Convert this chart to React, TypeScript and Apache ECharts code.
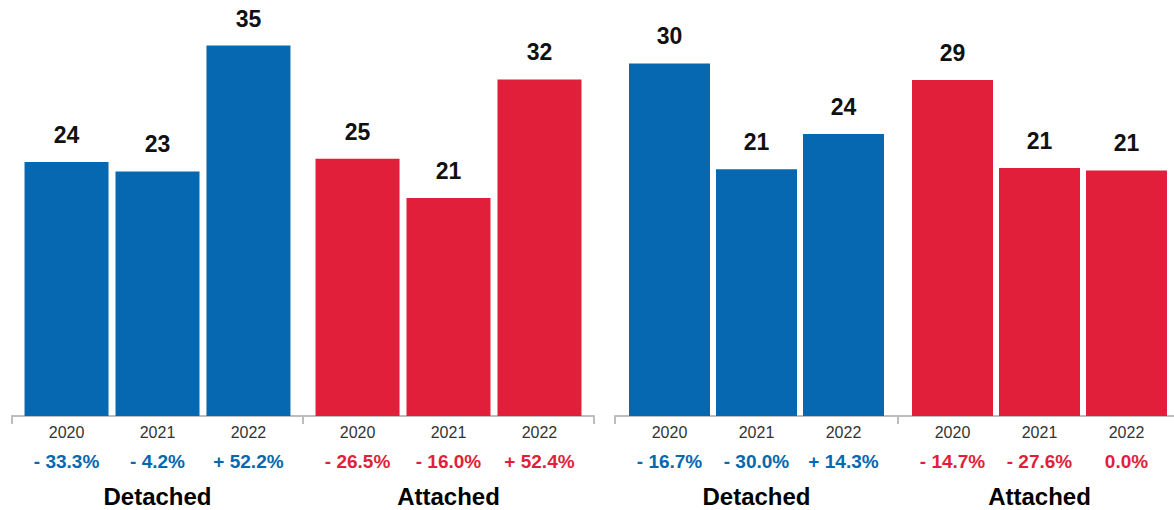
import React, { useEffect, useRef } from "react";
import * as echarts from "echarts";

const years = ["2020", "2021", "2022"];
const groups = ["Detached", "Attached"];

const leftDetached = [24.0, 23.1, 35.0];
const leftAttached = [24.3, 20.6, 31.8];
const leftDetachedLabels = ["24", "23", "35"];
const leftAttachedLabels = ["25", "21", "32"];
const leftDetachedChange = ["- 33.3%", "- 4.2%", "+ 52.2%"];
const leftAttachedChange = ["- 26.5%", "- 16.0%", "+ 52.4%"];

const rightDetached = [30.0, 21.0, 24.0];
const rightAttached = [28.6, 21.1, 20.9];
const rightDetachedLabels = ["30", "21", "24"];
const rightAttachedLabels = ["29", "21", "21"];
const rightDetachedChange = ["- 16.7%", "- 30.0%", "+ 14.3%"];
const rightAttachedChange = ["- 14.7%", "- 27.6%", "0.0%"];

const BLUE = "#0568B0";
const RED = "#E21F3A";
const FONT = "'Liberation Sans', Arial, Helvetica, sans-serif";

function buildSeries(
  detached: number[],
  attached: number[],
  detLabels: string[],
  attLabels: string[],
  detChange: string[],
  attChange: string[],
  mainX: number,
  ghostX: number,
  yIdx: number,
  barWidth: number,
  barGap: string
) {
  const out: any[] = [];
  years.forEach((yr, i) => {
    out.push({
      type: "bar",
      name: yr,
      xAxisIndex: mainX,
      yAxisIndex: yIdx,
      barWidth,
      barGap,
      data: [detached[i], attached[i]],
      itemStyle: {
        color: (p: any) => (p.dataIndex === 0 ? BLUE : RED),
      },
      label: {
        show: true,
        position: "top",
        distance: 15,
        fontFamily: FONT,
        fontSize: 23,
        lineHeight: 24,
        fontWeight: "bold",
        color: "#111",
        formatter: (p: any) => (p.dataIndex === 0 ? detLabels[i] : attLabels[i]),
      },
    });
  });
  years.forEach((yr, i) => {
    out.push({
      type: "bar",
      name: yr + "-lbl",
      xAxisIndex: ghostX,
      yAxisIndex: yIdx,
      barWidth,
      barGap,
      silent: true,
      data: [detached[i], attached[i]],
      itemStyle: { color: "rgba(0,0,0,0)" },
      label: {
        show: true,
        position: "bottom",
        distance: 6,
        fontFamily: FONT,
        formatter: (p: any) =>
          p.dataIndex === 0
            ? `{y|${yr}}\n{b|${detChange[i]}}`
            : `{y|${yr}}\n{r|${attChange[i]}}`,
        rich: {
          y: { fontFamily: FONT, fontSize: 16, lineHeight: 20, color: "#333" },
          b: { fontFamily: FONT, fontSize: 19, lineHeight: 38, fontWeight: "bold", color: BLUE },
          r: { fontFamily: FONT, fontSize: 19, lineHeight: 38, fontWeight: "bold", color: RED },
        },
      },
    });
  });
  return out;
}

function mainAxis(gridIndex: number) {
  return {
    type: "category",
    gridIndex,
    data: groups,
    offset: 3,
    axisLine: { show: true, lineStyle: { color: "#bdbdbd", width: 2 } },
    axisTick: { show: true, length: 8, lineStyle: { color: "#bdbdbd", width: 2 } },
    axisLabel: {
      margin: 65,
      fontFamily: FONT,
      fontSize: 24,
      lineHeight: 24,
      fontWeight: "bold",
      color: "#000",
    },
  };
}

function ghostAxis(gridIndex: number) {
  return { type: "category", gridIndex, data: groups, show: false };
}

export default function App() {
  const ref = useRef<HTMLDivElement>(null);
  useEffect(() => {
    if (!ref.current) return;
    const chart = echarts.init(ref.current, null, { renderer: "svg" });
    chart.setOption({
      animation: false,
      textStyle: { fontFamily: FONT },
      grid: [
        { left: 12, width: 582, top: 0, bottom: 94 },
        { left: 615, width: 566, top: 0, bottom: 94 },
      ],
      xAxis: [mainAxis(0), ghostAxis(0), mainAxis(1), ghostAxis(1)],
      yAxis: [
        { type: "value", gridIndex: 0, min: 0, max: 39.3, show: false, splitLine: { show: false } },
        { type: "value", gridIndex: 1, min: 0, max: 35.4, show: false, splitLine: { show: false } },
      ],
      series: [
        ...buildSeries(leftDetached, leftAttached, leftDetachedLabels, leftAttachedLabels, leftDetachedChange, leftAttachedChange, 0, 1, 0, 84, "8.3%"),
        ...buildSeries(rightDetached, rightAttached, rightDetachedLabels, rightAttachedLabels, rightDetachedChange, rightAttachedChange, 2, 3, 1, 81, "7.4%"),
      ],
    });
    return () => chart.dispose();
  }, []);
  return (
    <div style={{ position: "fixed", left: 0, top: 0, width: 1174, height: 510, overflow: "hidden", background: "#fff" }}>
      <div ref={ref} style={{ width: 1200, height: 510 }} />
    </div>
  );
}
